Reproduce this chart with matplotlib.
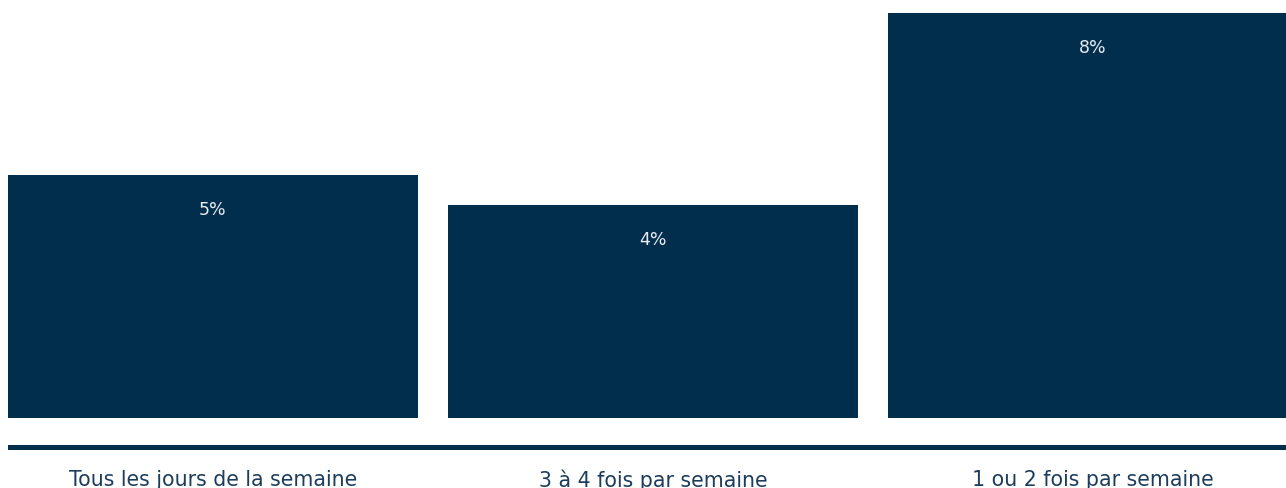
import matplotlib
matplotlib.use("Agg")
import matplotlib.pyplot as plt

categories = ["Tous les jours de la semaine", "3 à 4 fois par semaine", "1 ou 2 fois par semaine"]
values = [4.8, 4.2, 8.0]
value_labels = ["5%", "4%", "8%"]

NAVY = "#022e4e"

plt.rcParams["font.family"] = ["DejaVu Sans"]

fig = plt.figure(figsize=(12.86, 4.88), dpi=100)
W, H = 1286, 488

# axes for the bars: x 8..1286 px, y 0..418 px (top down)
ax = fig.add_axes([8 / W, (H - 418) / H, (W - 8) / W, 418 / H])
bw = 410 / 440
x = list(range(len(values)))
ax.bar(x, values, width=bw, color=NAVY, clip_on=True)
ax.set_xlim(-bw / 2, -bw / 2 + 1278 / 440)
ax.set_ylim(0, 8.0 * 418 / 405)
ax.axis("off")

for xi, v, lab in zip(x, values, value_labels):
    ax.annotate(lab, (xi, v), xytext=(0, -35), textcoords="offset pixels",
                ha="center", va="center", color="#e8ecef", fontsize=12.5)

# baseline rule under the bars
line_ax = fig.add_axes([8 / W, (H - 450) / H, (W - 8) / W, 5 / H])
line_ax.axhspan(0, 1, color=NAVY)
line_ax.set_xlim(0, 1)
line_ax.set_ylim(0, 1)
line_ax.axis("off")

# category labels
lab_ax = fig.add_axes([8 / W, 0, (W - 8) / W, (H - 450) / H])
lab_ax.set_xlim(ax.get_xlim())
lab_ax.set_ylim(0, 1)
lab_ax.axis("off")
for xi, c in zip(x, categories):
    lab_ax.text(xi, 0.2, c, ha="center", va="center", color="#1d3d5c", fontsize=14.8)

fig.savefig("out.png", dpi=100)
